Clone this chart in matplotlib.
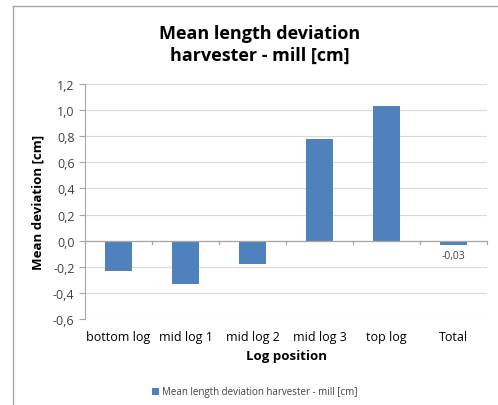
import matplotlib.pyplot as plt
from matplotlib.ticker import FixedLocator, FuncFormatter
from matplotlib.patches import Rectangle

plt.rcParams['font.family'] = ['Open Sans', 'DejaVu Sans']

# data
categories = ['bottom log', 'mid log 1', 'mid log 2', 'mid log 3', 'top log', 'Total']
values = [-0.23, -0.33, -0.18, 0.78, 1.03, -0.03]
yticks = [-0.6, -0.4, -0.2, 0.0, 0.2, 0.4, 0.6, 0.8, 1.0, 1.2]

bar_color = '#4f81bd'
text_color = '#404040'
grid_color = '#d9d9d9'

fig = plt.figure(figsize=(4.98, 4.06), dpi=100)

# chart frame (left and top edges visible)
fig.add_artist(plt.Line2D([13/498, 13/498], [0, 1 - 7/406], transform=fig.transFigure,
                          color='#a6a6a6', lw=1))
fig.add_artist(plt.Line2D([13/498, 1], [1 - 7/406, 1 - 7/406], transform=fig.transFigure,
                          color='#a6a6a6', lw=1))

ax = fig.add_axes([85/498, 1 - 320/406, (487 - 85)/498, (320 - 85)/406])

x = range(len(categories))
ax.bar(x, values, width=0.4, color=bar_color, zorder=3,
       label='Mean length deviation harvester - mill [cm]')

ax.set_xlim(-0.5, len(categories) - 0.5)
ax.set_ylim(-0.6, 1.2)
ax.yaxis.set_major_locator(FixedLocator(yticks))
ax.yaxis.set_major_formatter(FuncFormatter(lambda v, p: f'{v:.1f}'.replace('.', ',').replace('-0,0', '0,0')))
ax.grid(axis='y', color=grid_color, lw=0.8, zorder=0)

for s in ['top', 'right', 'bottom']:
    ax.spines[s].set_visible(False)
ax.spines['left'].set_color('#a6a6a6')

# horizontal axis line at zero with tick marks at category boundaries
ax.axhline(0, color='#a6a6a6', lw=0.9, zorder=4)
for b in [i + 0.5 for i in range(-1, len(categories))]:
    ax.plot([b, b], [0, -0.025], color='#a6a6a6', lw=0.9, zorder=4, clip_on=False)

ax.set_xticks(list(x))
ax.set_xticklabels(categories)
ax.tick_params(axis='x', length=0, pad=8, labelsize=9, labelcolor='black')
ax.tick_params(axis='y', length=4, color='#a6a6a6', labelsize=9, labelcolor=text_color)

ax.text(5, -0.075, '-0,03', ha='center', va='top', fontsize=7.5, color=text_color)

ax.set_xlabel('Log position', fontsize=9.5, fontweight='bold', labelpad=4)
ax.set_ylabel('Mean deviation [cm]', fontsize=9.5, fontweight='bold', labelpad=6)

fig.text(260/498, 1 - 45/406, 'Mean length deviation\nharvester - mill [cm]', ha='center', va='center',
         fontsize=13, fontweight='bold', linespacing=1.3)

leg = ax.legend(loc='center', bbox_to_anchor=(255/498, 1 - 393/406), bbox_transform=fig.transFigure,
                frameon=False, fontsize=7, handlelength=0.7, handleheight=0.7, handletextpad=0.3)
for t in leg.get_texts():
    t.set_color(text_color)

fig.savefig('out.png', dpi=100)
